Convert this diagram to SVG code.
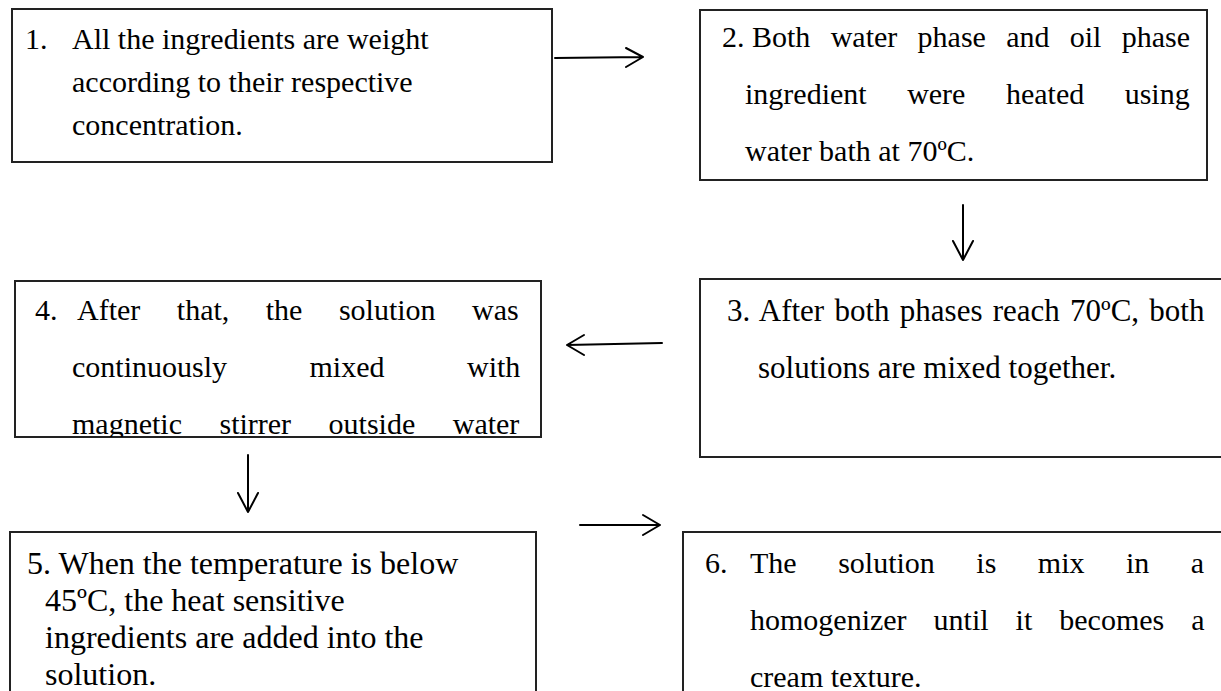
<svg xmlns="http://www.w3.org/2000/svg" width="1221" height="691" viewBox="0 0 1221 691">
<defs>
<style>
.box{fill:#fff;stroke:#222;stroke-width:2}
.t{font-family:"Liberation Serif","Times New Roman",serif;font-size:30px;fill:#000}
.t31{font-size:31px}
.t32{font-size:32px}
.c{fill:none;stroke:#000;stroke-width:2;stroke-linecap:round;stroke-linejoin:round}
</style>
<clipPath id="clip4"><rect x="15" y="281" width="526" height="156"/></clipPath>
</defs>
<rect width="1221" height="691" fill="#fff"/>
<g id="node1">
<rect class="box" x="12" y="9" width="540" height="153"/>
<text class="t" x="25" y="49">1.</text>
<text class="t" x="72" y="49">All the ingredients are weight</text>
<text class="t" x="72" y="92">according to their respective</text>
<text class="t" x="72" y="135">concentration.</text>
</g>
<g id="node2">
<rect class="box" x="700" y="10" width="507" height="170"/>
<text class="t" x="722" y="47">2.</text>
<text class="t" x="752" y="47" word-spacing="12.8">Both water phase and oil phase</text>
<text class="t" x="745" y="104" word-spacing="33">ingredient were heated using</text>
<text class="t" x="745" y="161">water bath at 70ºC.</text>
</g>
<g id="node3">
<rect class="box" x="700" y="279" width="530" height="178"/>
<text class="t t31" x="727" y="321" word-spacing="2.5">3. After both phases reach 70ºC, both</text>
<text class="t t31" x="758" y="378">solutions are mixed together.</text>
</g>
<g id="node4">
<rect class="box" x="15" y="281" width="526" height="156"/>
<g clip-path="url(#clip4)">
<text class="t" x="35" y="320">4.</text>
<text class="t" x="77" y="320" word-spacing="29">After that, the solution was</text>
<text class="t" x="72" y="377" word-spacing="75">continuously mixed with</text>
<text class="t" x="72" y="434" word-spacing="30">magnetic stirrer outside water</text>
</g>
</g>
<g id="node5">
<rect class="box" x="10" y="532" width="526" height="170"/>
<text class="t t32" x="27" y="574">5. When the temperature is below</text>
<text class="t t32" x="45" y="611">45ºC, the heat sensitive</text>
<text class="t t32" x="45" y="648">ingredients are added into the</text>
<text class="t t32" x="45" y="685">solution.</text>
</g>
<g id="node6">
<rect class="box" x="683" y="532" width="550" height="170"/>
<text class="t" x="705" y="573">6.</text>
<text class="t" x="750" y="573" word-spacing="34">The solution is mix in a</text>
<text class="t" x="750" y="630" word-spacing="19.5">homogenizer until it becomes a</text>
<text class="t" x="750" y="687">cream texture.</text>
</g>
<g id="connectors">
<path class="c" d="M555 58 L643 57 M626 48 L643 57 L626 67"/>
<path class="c" d="M963 205 V260 M953 241 L963 260 L973 241"/>
<path class="c" d="M662 343 L567 345 M584 335 L567 345 L584 355"/>
<path class="c" d="M248 455 V512 M238 493 L248 512 L258 493"/>
<path class="c" d="M580 525 H660 M643 515 L660 525 L643 535"/>
</g>
</svg>
